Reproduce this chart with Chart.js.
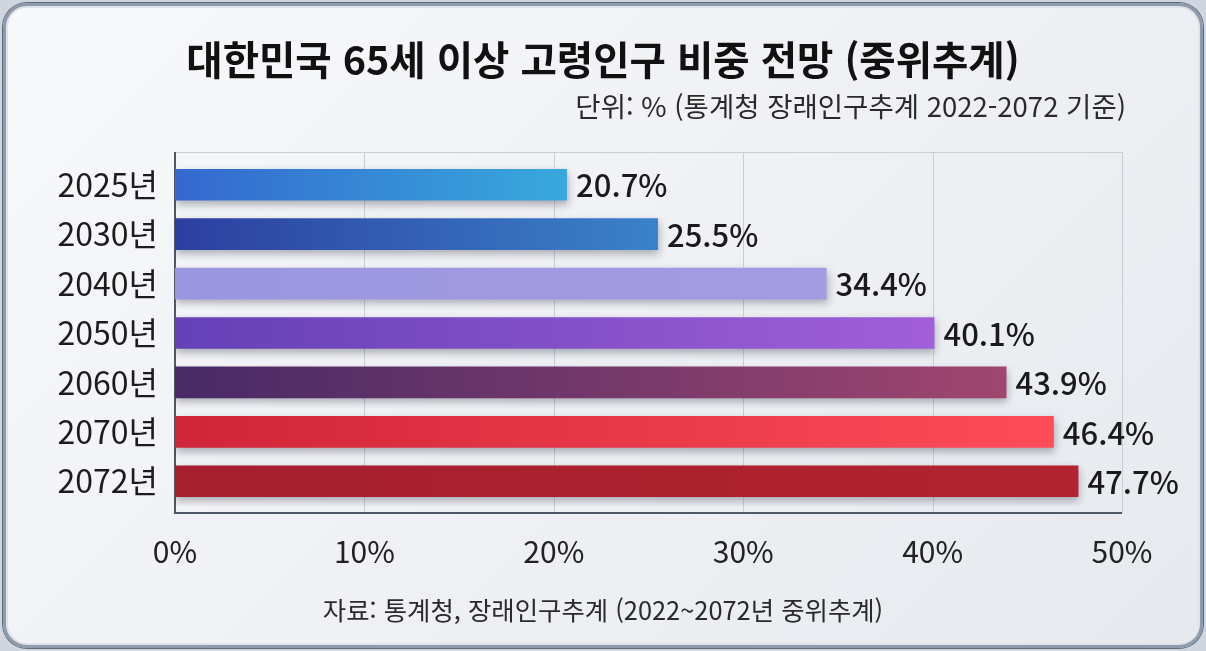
<!DOCTYPE html>
<html lang="ko">
<head>
<meta charset="utf-8">
<script src="https://cdn.jsdelivr.net/npm/chart.js@4"></script>
<style>
    html, body { margin: 0; padding: 0; }
    body { width: 1206px; height: 651px; background: #cfd6df; overflow: hidden; font-family: "Noto Sans CJK KR", sans-serif; }
    #panel {
        position: absolute; left: 3px; top: 3px; width: 1194px; height: 639px;
        border: 3px solid #8e9bad; border-radius: 24px;
        background: linear-gradient(135deg, #f8f9fb 0%, #eef0f4 55%, #e6e9ee 100%);
        box-shadow: inset 0 0 0 2px #dfe4ea, 0 0 0 1px #5f6b7a;
    }
    #wrap { position: absolute; left: 0; top: 0; width: 1206px; height: 651px; }
    .txt { position: absolute; color: #1c1c1c; white-space: nowrap; line-height: 1; }
    #title { left: 0; width: 1206px; top: 38px; text-align: center; font-size: 39.5px; font-weight: 700; color: #111; }
    #unit { right: 80px; top: 92px; font-size: 27.5px; color: #2a2a2a; }
    #source { left: 0; width: 1206px; top: 597px; text-align: center; font-size: 25.4px; color: #2a2a2a; }
</style>
</head>
<body>
<div id="panel"></div>
<div id="wrap"><canvas id="AgingChart"></canvas></div>
<div class="txt" id="title">대한민국 65세 이상 고령인구 비중 전망 (중위추계)</div>
<div class="txt" id="unit">단위: % (통계청 장래인구추계 2022-2072 기준)</div>
<div class="txt" id="source">자료: 통계청, 장래인구추계 (2022~2072년 중위추계)</div>

<script>
const years = ["2025년", "2030년", "2040년", "2050년", "2060년", "2070년", "2072년"];
const shares = [20.7, 25.5, 34.4, 40.1, 43.9, 46.4, 47.7];
const xTicks = [0, 10, 20, 30, 40, 50];

// gradient start / end per bar
const colorFrom = ["#3468cf", "#2c3f9f", "#9a97df", "#6440b6", "#472a66", "#cf2538", "#a51f2d"];
const colorTo = ["#38a9dc", "#3a82c9", "#a59be2", "#a15fd8", "#a0466f", "#ff4c59", "#b2232f"];

function barFill(c) {
    const chart = c.chart;
    const i = c.dataIndex;
    if (!chart.chartArea || !chart.scales.x) return colorFrom[i];
    const x = chart.scales.x;
    const g = chart.ctx.createLinearGradient(x.getPixelForValue(0), 0, x.getPixelForValue(shares[i]), 0);
    g.addColorStop(0, colorFrom[i]);
    g.addColorStop(1, colorTo[i]);
    return g;
}

function AgingChart() {
    const ctx = document.getElementById("AgingChart");

    new Chart(ctx, {
        type: "bar",
        data: {
            labels: years,
            datasets: [
                {
                    label: "65세 이상 비중",
                    data: shares,
                    backgroundColor: barFill,
                    borderWidth: 0,
                    categoryPercentage: 1,
                    barPercentage: 0.64,
                },
            ],
        },
        options: {
            indexAxis: "y",
            responsive: true,
            maintainAspectRatio: false,
            animation: false,
            layout: {
                padding: { top: 160, right: 84, left: 0, bottom: 0 },
            },
            plugins: {
                legend: { display: false },
                tooltip: { enabled: false },
            },
            scales: {
                x: {
                    min: 0,
                    max: 50,
                    afterBuildTicks: (s) => { s.ticks = xTicks.map(v => ({ value: v })); },
                    afterFit: (s) => { s.height = 145; },
                    grid: { display: false, drawTicks: false, tickLength: 0 },
                    border: { display: false },
                    ticks: {
                        padding: 28,
                        color: "#222",
                        font: { family: "Noto Sans CJK KR", size: 30 },
                        callback: (v) => v + "%",
                    },
                },
                y: {
                    afterFit: (s) => { s.width = 175; },
                    grid: { display: false, drawTicks: false, tickLength: 0 },
                    border: { display: false },
                    ticks: {
                        padding: 17,
                        color: "#1c1c1c",
                        font: { family: "Noto Sans CJK KR", size: 32 },
                    },
                },
            },
        },
        plugins: [
            {
                id: "frameAndGrid",
                beforeDatasetsDraw(chart) {
                    const { ctx, chartArea } = chart;
                    const x = chart.scales.x;
                    const top = chartArea.top - 8;
                    const bottom = chartArea.bottom + 7;
                    ctx.save();
                    ctx.strokeStyle = "#c9cdd4";
                    ctx.lineWidth = 1;
                    xTicks.forEach((v) => {
                        if (v === 0) return;
                        const px = Math.round(x.getPixelForValue(v)) + 0.5;
                        ctx.beginPath();
                        ctx.moveTo(px, top);
                        ctx.lineTo(px, bottom);
                        ctx.stroke();
                    });
                    ctx.beginPath();
                    ctx.moveTo(chartArea.left, top + 0.5);
                    ctx.lineTo(chartArea.right, top + 0.5);
                    ctx.stroke();
                    // left and bottom axis lines
                    ctx.strokeStyle = "#4f5865";
                    ctx.lineWidth = 2;
                    ctx.beginPath();
                    ctx.moveTo(chartArea.left, top);
                    ctx.lineTo(chartArea.left, bottom);
                    ctx.lineTo(chartArea.right, bottom);
                    ctx.stroke();
                    ctx.restore();
                    // soft shadow under bars
                    ctx.save();
                    ctx.shadowColor = "rgba(40, 40, 60, 0.35)";
                    ctx.shadowBlur = 8;
                    ctx.shadowOffsetY = 4;
                    ctx.shadowOffsetX = 1;
                },
                afterDatasetsDraw(chart) {
                    const { ctx } = chart;
                    ctx.restore();
                    const meta = chart.getDatasetMeta(0);
                    ctx.save();
                    ctx.fillStyle = "#1a1a1a";
                    ctx.font = "500 31px 'Noto Sans CJK KR'";
                    ctx.textAlign = "left";
                    ctx.textBaseline = "middle";
                    meta.data.forEach((bar, i) => {
                        ctx.fillText(shares[i].toFixed(1) + "%", bar.x + 9, bar.y + 1);
                    });
                    ctx.restore();
                },
            },
        ],
    });
}

AgingChart();
</script>
</body>
</html>
